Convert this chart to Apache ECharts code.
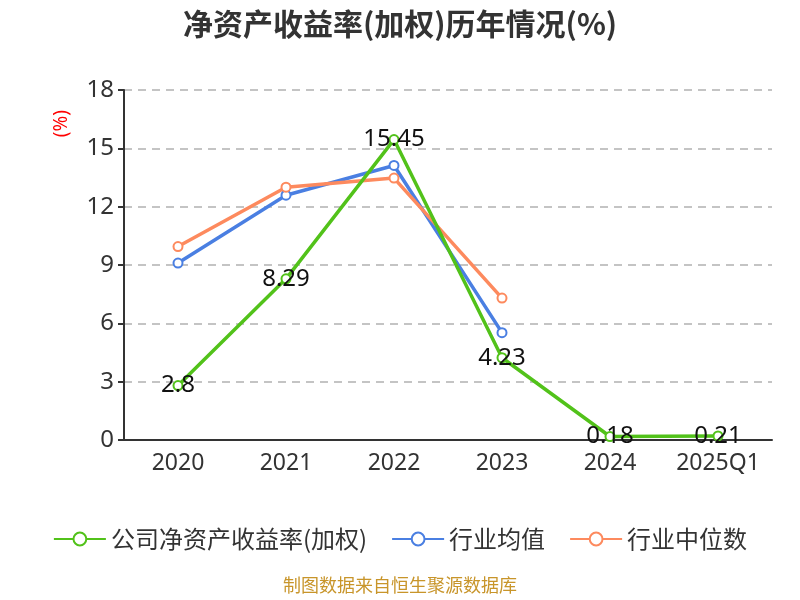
<!DOCTYPE html>
<html>
<head>
<meta charset="utf-8">
<script src="https://cdn.jsdelivr.net/npm/echarts@6/dist/echarts.min.js"></script>
<style>
    html,body{margin:0;padding:0;background:#fff;}
    #container{width:800px;height:600px;}
</style>
</head>
<body>
<div id="container"></div>
<script>
var years = ['2020', '2021', '2022', '2023', '2024', '2025Q1'];
var roeCompany = [2.8, 8.29, 15.45, 4.23, 0.18, 0.21];
var roeAvg = [9.1, 12.59, 14.12, 5.52, null, null];
var roeMedian = [9.95, 13.0, 13.47, 7.3, null, null];
var yTicks = [0, 3, 6, 9, 12, 15, 18];

var myChart = echarts.init(document.getElementById('container'));

var option = {
    title : {
        text: '净资产收益率(加权)历年情况(%)',
        left: 'center',
        top: 4,
        textStyle: {fontSize: 30, fontWeight: 'bold', color: '#333', fontFamily: 'Noto Sans CJK SC'}
    },
    legend: {
        bottom: 44,
        itemWidth: 52,
        itemHeight: 16,
        itemGap: 24,
        textStyle: {fontSize: 24, color: '#333', fontFamily: 'Noto Sans CJK SC'},
        data: ['公司净资产收益率(加权)', '行业均值', '行业中位数']
    },
    grid: {left: 124, right: 28, top: 90, bottom: 160},
    xAxis : [
        {
            type : 'category',
            data : years,
            axisLine: {lineStyle: {color: '#333', width: 2}},
            axisTick: {length: 8, lineStyle: {color: '#333', width: 2}},
            axisLabel: {fontSize: 23, color: '#333', margin: 12, interval: 0, fontFamily: 'Noto Sans'}
        }
    ],
    yAxis : [
        {
            type : 'value',
            min: yTicks[0],
            max: yTicks[yTicks.length - 1],
            interval: 3,
            axisLine: {show: true, lineStyle: {color: '#333', width: 2}},
            axisTick: {show: true, length: 6, lineStyle: {color: '#333', width: 2}},
            axisLabel: {fontSize: 24, color: '#333', margin: 10, fontFamily: 'Noto Sans'},
            splitLine: {lineStyle: {type: [8, 6], color: '#c4c4c4', width: 2}}
        }
    ],
    graphic: [
        {
            type: 'text',
            left: 52,
            top: 110,
            rotation: Math.PI / 2,
            style: {text: '(%)', fill: '#ff0000', fontSize: 19, fontFamily: 'Noto Sans'}
        },
        {
            type: 'text',
            left: 'center',
            top: 576,
            style: {text: '制图数据来自恒生聚源数据库', fill: '#c8952a', fontSize: 18, fontFamily: 'Noto Sans CJK SC'}
        }
    ],
    series : [
        {
            name: '公司净资产收益率(加权)',
            type: 'line',
            data: roeCompany,
            symbol: 'emptyCircle',
            symbolSize: 9,
            itemStyle: {color: '#52c21a'},
            lineStyle: {width: 3.5},
            label: {show: true, position: 'inside', fontSize: 24, color: '#111', fontFamily: 'Noto Sans'},
            z: 3
        },
        {
            name: '行业均值',
            type: 'line',
            data: roeAvg,
            symbol: 'emptyCircle',
            symbolSize: 9,
            itemStyle: {color: '#4a7fe2'},
            lineStyle: {width: 3.5},
            z: 2
        },
        {
            name: '行业中位数',
            type: 'line',
            data: roeMedian,
            symbol: 'emptyCircle',
            symbolSize: 9,
            itemStyle: {color: '#fd8a5e'},
            lineStyle: {width: 3.5},
            z: 2
        }
    ]
};

myChart.setOption(option);
</script>
</body>
</html>
